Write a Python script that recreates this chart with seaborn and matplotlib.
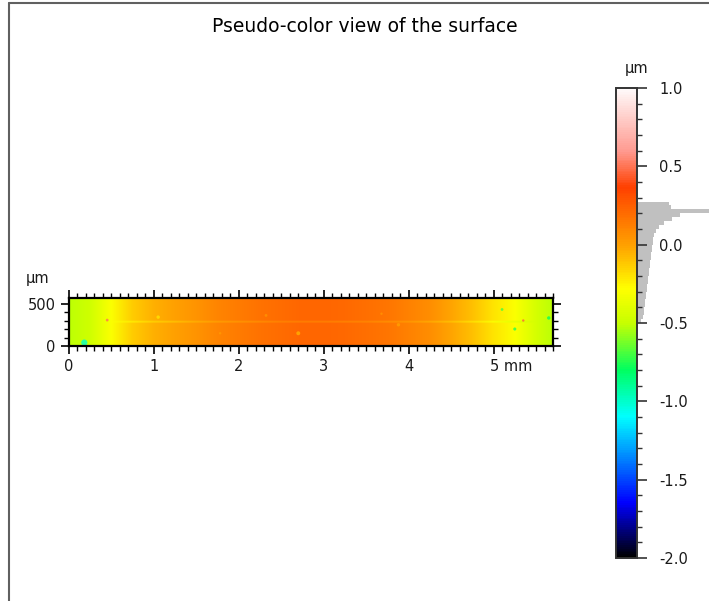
import matplotlib
matplotlib.use('Agg')
import matplotlib.pyplot as plt
from matplotlib.colors import LinearSegmentedColormap, Normalize
from matplotlib.lines import Line2D
from matplotlib.ticker import MultipleLocator
from matplotlib.transforms import ScaledTranslation
import numpy as np
import seaborn as sns

# height profile along the scan, one value every 0.25 mm (µm)
x_mm = [0.0, 0.25, 0.5, 0.75, 1.0, 1.25, 1.5, 1.75, 2.0, 2.25, 2.5, 2.75,
        3.0, 3.25, 3.5, 3.75, 4.0, 4.25, 4.5, 4.75, 5.0, 5.25, 5.5, 5.75]
height_um = [-0.52, -0.47, -0.30, -0.13, -0.05, 0.0, 0.05, 0.10, 0.14, 0.17, 0.20, 0.22,
             0.22, 0.21, 0.19, 0.16, 0.12, 0.07, -0.01, -0.10, -0.20, -0.30, -0.45, -0.53]
surface_width_mm = 5.7
surface_height_um = 565
row_step_um = 20

# faint horizontal scratch
scratch_y_um = 290
scratch_x_mm = (0.6, 5.3)
scratch_offset_um = -0.09

# isolated spots
spot_x_mm = [0.18, 5.25, 5.10, 5.65, 2.70, 3.88, 1.05, 2.32, 0.45, 5.35, 3.68, 1.78]
spot_y_um = [40, 200, 430, 330, 150, 250, 340, 360, 305, 300, 380, 150]
spot_height_um = [-1.0, -0.75, -0.70, -0.80, -0.05, 0.0, -0.20, 0.05, 0.50, 0.45, 0.05, 0.02]
spot_size = [20, 5, 4, 6, 8, 6, 6, 4, 4, 3, 3, 3]

# height histogram beside the colour scale
hist_bin_um = [0.2625, 0.2375, 0.2125, 0.1875, 0.1625, 0.1375, 0.1125, 0.0875, 0.0625, 0.0375,
               0.0125, -0.0125, -0.0375, -0.0625, -0.0875, -0.1125, -0.1375, -0.1625, -0.1875, -0.2125,
               -0.2375, -0.2625, -0.2875, -0.3125, -0.3375, -0.3625, -0.3875, -0.4125, -0.4375, -0.4625,
               -0.4875]
hist_count = [32, 34, 90, 43, 35, 27, 22, 19, 17, 16,
              16, 15, 15, 14, 14, 13, 13, 12, 12, 11,
              11, 10, 10, 9, 9, 8, 8, 7, 7, 6,
              4]

cbar_ticks = [1.0, 0.5, 0.0, -0.5, -1.0, -1.5, -2.0]
x_ticks = [0, 1, 2, 3, 4, 5]
x_tick_labels = ['0', '1', '2', '3', '4', '5 mm']
y_ticks = [0, 500]

vmin, vmax = -2.0, 1.0
cmap_stops = [(-2.0, '#000000'), (-1.65, '#0000ff'), (-1.1, '#00ffff'), (-0.8, '#00ff60'),
              (-0.5, '#c8ff00'), (-0.28, '#ffff00'), (0.0, '#ffa000'), (0.37, '#ff4000'),
              (0.6, '#ff9a90'), (1.0, '#fffafa')]

sns.set_style('white')
plt.rcParams['font.family'] = ['DejaVu Sans']
text_col = '#1a1a1a'

cmap = LinearSegmentedColormap.from_list(
    'pseudo', [((v - vmin) / (vmax - vmin), c) for v, c in cmap_stops])
norm = Normalize(vmin, vmax)

W, H = 709, 601
fig = plt.figure(figsize=(W / 100, H / 100), dpi=100)

def box(l, t, r, b):
    return [l / W, 1 - b / H, (r - l) / W, (b - t) / H]

# surface grid
rows_um = np.arange(0, surface_height_um + row_step_um, row_step_um)
grid = np.tile(np.array(height_um), (len(rows_um), 1))
srow = int(np.argmin(np.abs(rows_um - scratch_y_um)))
xs = np.array(x_mm)
grid[srow, (xs >= scratch_x_mm[0]) & (xs <= scratch_x_mm[1])] += scratch_offset_um

ax = fig.add_axes(box(69, 298, 553, 346))
dx = x_mm[1] - x_mm[0]
im = ax.imshow(grid, cmap=cmap, norm=norm, origin='lower', aspect='auto',
               interpolation='bilinear',
               extent=[x_mm[0] - dx / 2, x_mm[-1] + dx / 2,
                       rows_um[0] - row_step_um / 2, rows_um[-1] + row_step_um / 2])
ax.scatter(spot_x_mm, spot_y_um, c=spot_height_um, cmap=cmap, norm=norm,
           s=spot_size, linewidths=0, alpha=0.8)
ax.set_xlim(0, surface_width_mm)
ax.set_ylim(0, surface_height_um)
ax.set_xticks(x_ticks)
ax.set_xticklabels(x_tick_labels)
ax.set_yticks(y_ticks)
ax.xaxis.set_minor_locator(MultipleLocator(0.1))
ax.yaxis.set_minor_locator(MultipleLocator(100))
ax.tick_params(which='both', direction='out', top=True, right=True, bottom=True, left=True,
               color='black', labelsize=10.5, labelcolor=text_col)
ax.tick_params(which='major', length=6, width=1.2)
ax.tick_params(which='minor', length=3.5, width=1)
for s in ax.spines.values():
    s.set_linewidth(1.6)
    s.set_color('black')
lab = ax.get_xticklabels()[-1]
lab.set_horizontalalignment('left')
lab.set_transform(lab.get_transform() + ScaledTranslation(-0.035, 0, fig.dpi_scale_trans))
fig.text(38 / W, 1 - 278 / H, 'µm', ha='center', va='center', fontsize=10.5, color=text_col)

# histogram then colour scale on top of it
hax = fig.add_axes(box(637, 88, 709, 558))
sns.histplot(y=hist_bin_um, weights=hist_count, binwidth=0.025, binrange=(-0.5, 0.275),
             color='#c0c0c0', alpha=1, linewidth=0, ax=hax)
hax.set_ylim(vmin, vmax)
hax.set_xlim(0, 72)
hax.axis('off')

cax = fig.add_axes(box(616, 88, 637, 558))
cbar = fig.colorbar(im, cax=cax, ticks=cbar_ticks)
cbar.ax.set_yticklabels([f'{t:.1f}' for t in cbar_ticks])
cbar.ax.yaxis.set_minor_locator(MultipleLocator(0.1))
cbar.ax.tick_params(which='both', direction='out', right=True, color='#333333', labelsize=10.5,
                    labelcolor=text_col)
cbar.ax.tick_params(which='major', length=7, width=1.2, pad=9)
cbar.ax.tick_params(which='minor', length=3.5, width=1)
cbar.outline.set_linewidth(1.4)
cbar.outline.set_edgecolor('#333333')
fig.text(637 / W, 1 - 68 / H, 'µm', ha='center', va='center', fontsize=10.5, color=text_col)

fig.text(365 / W, 1 - 27 / H, 'Pseudo-color view of the surface', ha='center', va='center',
         fontsize=13.5, color='black')

# page frame
fig.add_artist(Line2D([9 / W, 9 / W], [0, 1 - 3 / H], color='#606060', lw=1.5))
fig.add_artist(Line2D([9 / W, 1], [1 - 3 / H, 1 - 3 / H], color='#606060', lw=1.5))

fig.savefig('out.png', dpi=100)
